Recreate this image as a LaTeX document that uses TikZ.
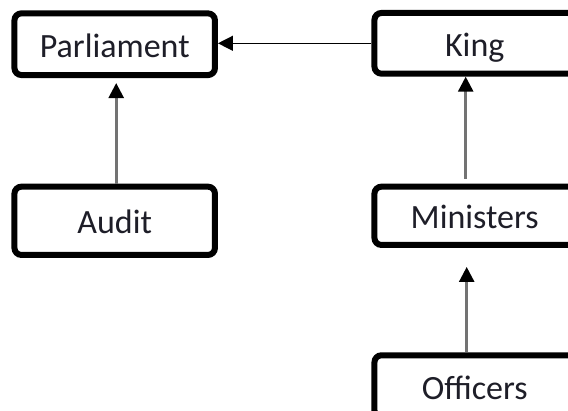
\documentclass[tikz,border=0pt]{standalone}
\usepackage{fontspec}
\setmainfont{Carlito}
\usetikzlibrary{arrows.meta}
\definecolor{conngray}{RGB}{115,115,115}
\definecolor{txt}{RGB}{30,30,40}
\tikzset{
  box/.style={draw=black, line width=6pt, rounded corners=7pt, minimum width=200.5pt,
    inner sep=0pt, fill=white, text=txt, font=\fontsize{34}{36}\selectfont,
    text height=30pt, text depth=4.4pt},
  conn/.style={-{Triangle[length=15pt,width=15pt]}},
  vconn/.style={conn, draw=conngray, line width=2.6pt, -{Triangle[length=15pt,width=15pt,color=black]}},
  hconn/.style={conn, draw=black, line width=1.3pt},
}
\begin{document}
\begin{tikzpicture}[x=1pt,y=-1pt]
\useasboundingbox (0,0) rectangle (568,410);
\clip (0,0) rectangle (568,410);
\node[box, minimum height=61.7pt] (parl) at (114.7,44.2) {Parliament};
\node[box, minimum height=60.7pt] (king) at (474.7,43.3) {King};
\node[box, minimum height=68.3pt] (audit) at (114.7,220.8) {Audit};
\node[box, minimum height=58.3pt] (mini) at (474.7,215.8) {Ministers};
\node[box, minimum height=62pt] (offi) at (474.7,386.3) {Officers};
\draw[hconn] (king.west) -- (king.west -| parl.east);
\draw[vconn] ([xshift=1.5pt]audit.north) -- ([xshift=1.5pt,yshift=-5pt]parl.south);
\draw[vconn] ([xshift=-9pt,yshift=5pt]mini.north) -- ([xshift=-9pt]king.south);
\draw[vconn] ([xshift=-8pt]offi.north) -- ([xshift=-8pt,yshift=-19pt]mini.south);
\end{tikzpicture}
\end{document}
